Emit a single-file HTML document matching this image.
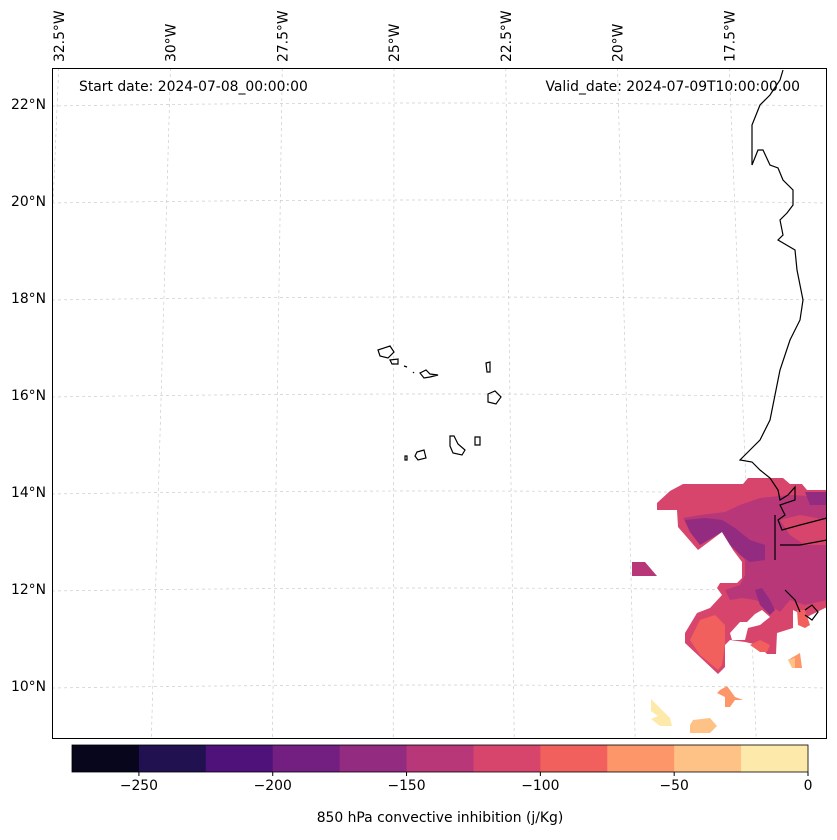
<!DOCTYPE html>
<html><head><meta charset="utf-8"><style>
body{margin:0;background:#fff;font-family:"DejaVu Sans",sans-serif}
svg text{font-family:"DejaVu Sans",sans-serif;fill:#000}
</style></head><body>
<svg id="chart" width="837" height="836" xmlns="http://www.w3.org/2000/svg">
<defs><clipPath id="fr"><rect x="52.5" y="68.5" width="774" height="670"/></clipPath></defs>
<g id="grid" stroke="#ccc" stroke-width="0.7" stroke-dasharray="3,3" fill="none" clip-path="url(#fr)"></g>
<g id="fills">
<polygon fill="#d8456c" points="683,484 743,484 748,478 783,478 790,484 802,484 807,490 827,490 827,607 807,617 793,610 793,628 777,633 776,654 767,654 758,645 745,642 730,640 725,645 725,667 718,674 685,643 685,633 697,613 710,608 722,595 717,588 720,583 737,583 742,578 742,562 733,550 722,532 698,550 678,527 677,510 657,510 657,503 670,491"/>
<polygon fill="#b73779" points="683,518 700,515 725,512 740,505 760,498 790,495 827,497 827,600 805,605 790,600 780,612 770,605 755,600 742,598 730,600 725,590 740,585 745,575 745,560 735,548 722,530 700,540 690,532"/>
<polygon fill="#932b80" points="685,520 705,518 722,520 735,528 750,540 765,545 765,560 750,562 740,555 730,545 722,532 700,545 690,532"/>
<polygon fill="#932b80" points="755,590 762,588 770,600 775,610 770,615 760,605"/>
<polygon fill="#932b80" points="805,492 827,492 827,505 810,505"/>
<polygon fill="#d8456c" points="780,520 800,515 827,520 827,545 805,545 790,535"/>
<polygon fill="#f1605d" points="690,640 700,620 715,615 725,625 725,645 722,665 718,670 700,655"/>
<polygon fill="#f1605d" points="750,645 760,640 770,645 767,652 760,652"/>
<polygon fill="#f1605d" points="797,610 805,610 810,625 805,628 798,625"/>
<polygon fill="#fff" points="730,633 740,622 747,622 755,614 762,610 770,617 760,625 748,628 745,640 732,640"/>
<polygon fill="#b73779" points="632,562 645,562 657,576 632,576"/>
<polygon fill="#fd9668" points="788,660 800,653 802,668 795,668"/>
<polygon fill="#fec287" points="788,660 795,658 795,668 792,668"/>
<polygon fill="#fd9668" points="720,690 727,686 735,697 743,700 735,700 730,707 725,707 725,697 717,693"/>
<polygon fill="#fde9a9" points="651,699 670,718 672,726 660,726 651,719 658,716 651,711"/>
<polygon fill="#fec287" points="693,720 710,718 717,726 710,733 690,733 690,725"/>
</g>
<g fill="none" stroke="#000" stroke-width="1.2">
<polyline points="783,70 780,80 770,95 760,105 752,125 752,165 758,150 763,150 770,165 778,168 783,180 793,190 793,205 787,213 780,220 783,235 778,240 795,250 797,270 803,300 800,320 790,340 780,370 775,395 770,420 760,440 750,450 740,460 752,462 760,470 770,478 778,490 780,500 788,495 795,487 795,500 780,505 785,515 778,520 782,530 800,525 827,518"/>
<path d="M780,545 L800,545 L827,540 M775,515 L775,560 M785,590 L795,600 L800,612 M805,610 L812,605 L818,612 L812,620 L805,615"/>
<path d="M378,350 L390,346 L394,352 L388,358 L380,356Z M390,360 L398,359 L398,364 L392,364Z M404,366 L407,367 M413,372 L414,373 M420,373 L426,370 L430,374 L438,375 L430,377 L424,378Z M486,363 L490,362 L490,372 L487,372Z M488,394 L495,391 L501,397 L496,404 L488,402Z M450,436 L454,436 L458,444 L465,450 L462,455 L453,453 L450,446Z M475,437 L480,437 L480,445 L475,445Z M417,452 L424,450 L426,458 L418,460 L415,456Z M405,456 L407,456 L407,460 L405,460Z"/>
</g>
<rect x="52.5" y="68.5" width="774" height="670" fill="none" stroke="#000" stroke-width="1"/>
<g id="latlabels" font-size="13.9"></g>
<g id="lonlabels" font-size="13.9"></g>
<text x="79" y="91" font-size="13.9">Start date: 2024-07-08_00:00:00</text>
<text x="800" y="91" font-size="13.9" text-anchor="end">Valid_date: 2024-07-09T10:00:00.00</text>
<g id="cbar"></g>
<text x="440" y="822" font-size="13.9" text-anchor="middle">850 hPa convective inhibition (j/Kg)</text>
</svg>
<script>
const cbarBounds=[-275,-250,-225,-200,-175,-150,-125,-100,-75,-50,-25,0];
const cbarColors=["#07061c","#221150","#4f127b","#721f81","#932b80","#b73779","#d8456c","#f1605d","#fd9668","#fec287","#fde9a9"];
const cbarTicks=[-250,-200,-150,-100,-50,0];
const latTicks=[22,20,18,16,14,12,10];
const lonTicks=[32.5,30,27.5,25,22.5,20,17.5];
const NS="http://www.w3.org/2000/svg";
function mk(t,a,p){const e=document.createElementNS(NS,t);for(const k in a)e.setAttribute(k,a[k]);p.appendChild(e);return e;}
const cx0=72,cx1=808,cy=745,ch=27;
function cbx(v){return cx0+(v-cbarBounds[0])/(cbarBounds[cbarBounds.length-1]-cbarBounds[0])*(cx1-cx0);}
const cb=document.getElementById('cbar');
for(let i=0;i<cbarColors.length;i++){
 const r=mk('rect',{x:cbx(cbarBounds[i]),y:cy,width:cbx(cbarBounds[i+1])-cbx(cbarBounds[i])+0.5,height:ch,fill:cbarColors[i]},cb);
 
 
}
mk('rect',{x:cx0,y:cy,width:cx1-cx0,height:ch,fill:'none',stroke:'#000','stroke-width':0.8},cb);
cbarTicks.forEach(v=>{
 const x=cbx(v);
 mk('line',{x1:x,x2:x,y1:cy+ch,y2:cy+ch+4,stroke:'#000'},cb);
 const t=mk('text',{x:x,y:cy+ch+18,'font-size':13.9,'text-anchor':'middle'},cb);
 t.textContent=(v<0?'\u2212'+(-v):String(v));
 
 
});
function latY(lat){return 104+(22-lat)*48.5;}
function lonX(lon,y){const top=394+(25-lon)*44.7;const slope=-(lon-24.8)*0.0055;return top+slope*(y-68);}
const g=document.getElementById('grid');
latTicks.forEach(l=>{const y=latY(l);mk('path',{d:`M52,${y+2} Q440,${y-4} 827,${y+2}`},g);});
lonTicks.forEach(l=>{mk('line',{x1:lonX(l,68),y1:68,x2:lonX(l,739),y2:739},g);});
const ll=document.getElementById('latlabels');
latTicks.forEach(l=>{const t=mk('text',{x:46,y:latY(l)+5,'text-anchor':'end'},ll);t.textContent=l+'\u00b0N';
 
 });
const lo=document.getElementById('lonlabels');
lonTicks.forEach(l=>{const x=lonX(l,68)+5;const t=mk('text',{x:x,y:62,transform:`rotate(-90 ${x} 62)`},lo);t.textContent=l+'\u00b0W';
 
 });
</script>
</body></html>
